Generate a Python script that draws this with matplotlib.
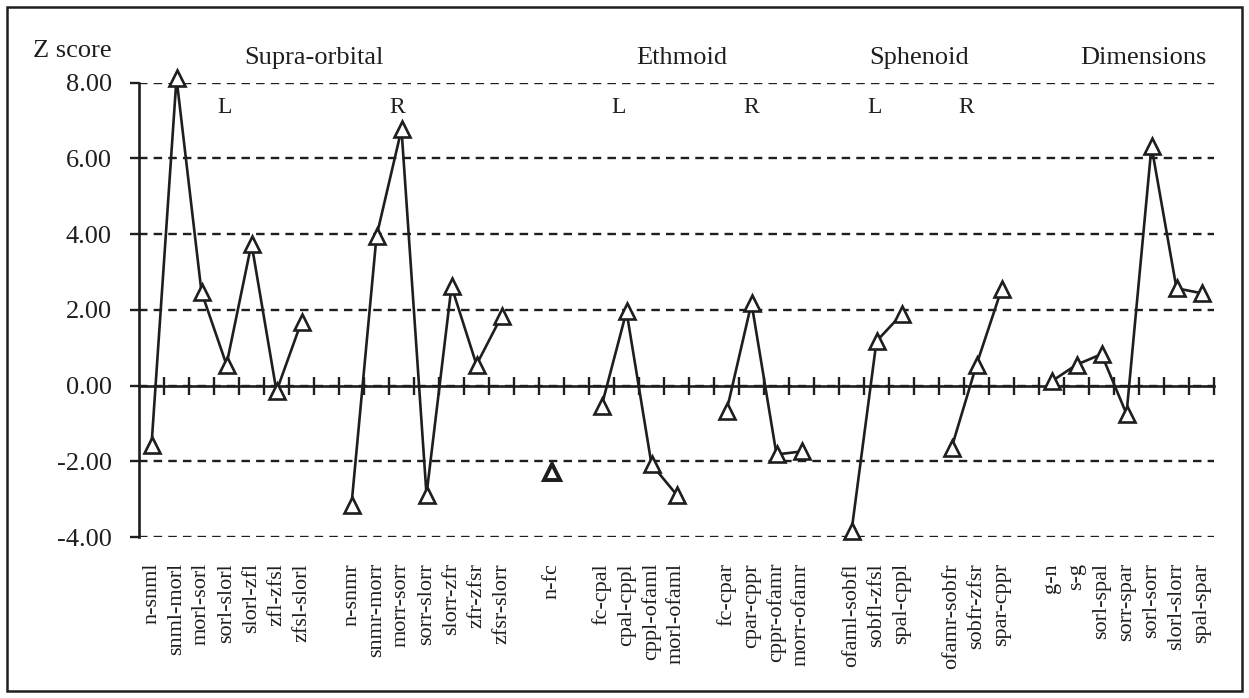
import numpy as np
import matplotlib
matplotlib.use('Agg')
import matplotlib.pyplot as plt
from matplotlib.patches import Rectangle
from matplotlib.ticker import FormatStrFormatter

plt.rcParams['font.family'] = ['Liberation Serif', 'DejaVu Serif']

# categories ('' = empty slot between groups)
labels = ['n-snml', 'snml-morl', 'morl-sorl', 'sorl-slorl', 'slorl-zfl', 'zfl-zfsl', 'zfsl-slorl', '',
          'n-snmr', 'snmr-morr', 'morr-sorr', 'sorr-slorr', 'slorr-zfr', 'zfr-zfsr', 'zfsr-slorr', '',
          'n-fc', '',
          'fc-cpal', 'cpal-cppl', 'cppl-ofaml', 'morl-ofaml', '',
          'fc-cpar', 'cpar-cppr', 'cppr-ofamr', 'morr-ofamr', '',
          'ofaml-sobfl', 'sobfl-zfsl', 'spal-cppl', '',
          'ofamr-sobfr', 'sobfr-zfsr', 'spar-cppr', '',
          'g-n', 's-g', 'sorl-spal', 'sorr-spar', 'sorl-sorr', 'slorl-slorr', 'spal-spar']

nan = np.nan
zscore = [-1.58, 8.12, 2.47, 0.55, 3.75, -0.15, 1.69, nan,
          -3.15, 3.94, 6.77, -2.88, 2.62, 0.55, 1.83, nan,
          -2.28, nan,
          -0.55, 1.96, -2.08, -2.88, nan,
          -0.68, 2.18, -1.82, -1.74, nan,
          -3.85, 1.17, 1.88, nan,
          -1.65, 0.55, 2.54, nan,
          0.11, 0.55, 0.83, -0.75, 6.32, 2.57, 2.44]

groups = ['Supra-orbital', 'Ethmoid', 'Sphenoid', 'Dimensions']
sides = ['L', 'R', 'L', 'R', 'L', 'R']

ink = '#1e1e1e'

fig = plt.figure(figsize=(12.49, 6.98), dpi=100)
ax = fig.add_axes([139 / 1249, 1 - 537 / 698, (1214 - 139) / 1249, (537 - 82.7) / 698])

x = np.arange(len(labels))
y = np.array(zscore, dtype=float)

ax.plot(x, y, color=ink, lw=1.9, marker='^', ms=12, mfc='white', mec=ink, mew=1.9,
        clip_on=False, zorder=3)

# single points with no neighbours are drawn a bit heavier in the original
prev = np.r_[np.nan, y[:-1]]
nxt = np.r_[y[1:], np.nan]
lone = ~np.isnan(y) & np.isnan(prev) & np.isnan(nxt)
ax.plot(x[lone], y[lone], ls='none', marker='^', ms=12, mfc='white', mec=ink, mew=2.8,
        clip_on=False, zorder=4)

ax.set_xlim(-0.5, len(labels) - 0.5)
ax.set_ylim(-4, 8)
ax.set_yticks(np.arange(-4, 9, 2))
ax.yaxis.set_major_formatter(FormatStrFormatter('%.2f'))
ax.tick_params(axis='y', direction='out', length=6.5, width=1.7, color=ink,
               labelsize=19, labelcolor=ink, pad=13)

ax.set_xticks(np.arange(0.5, len(labels) - 0.4, 1))
ax.tick_params(axis='x', direction='inout', length=13, width=1.7, color=ink, labelbottom=False)

ax.grid(axis='y', color=ink, lw=1.7, ls=(0, (3.6, 2.6)))
ax.set_axisbelow(True)

for s in ['top', 'right']:
    ax.spines[s].set_visible(False)
ax.spines['left'].set_linewidth(1.9)
ax.spines['left'].set_color(ink)
ax.spines['bottom'].set_position(('data', 0))
ax.spines['bottom'].set_linewidth(1.9)
ax.spines['bottom'].set_color(ink)
ax.spines['bottom'].set_zorder(2.5)

for i, lab in enumerate(labels):
    if lab:
        ax.text(i, -0.057, lab, transform=ax.get_xaxis_transform(), rotation=90,
                ha='center', va='top', fontsize=16, color=ink)

for gx, g in zip([6.5, 21.2, 30.7, 39.66], groups):
    ax.text(gx, 8.49, g, ha='center', va='baseline', fontsize=19, color=ink)

for sx, s in zip([2.94, 9.82, 18.7, 23.98, 28.94, 32.58], sides):
    ax.text(sx, 7.2, s, ha='center', va='baseline', fontsize=17, color=ink)

fig.text(112 / 1249, 1 - 57 / 698, 'Z score', ha='right', va='baseline', fontsize=19, color=ink)

fig.patches.append(Rectangle((7 / 1249, 7 / 698), (1242 - 7) / 1249, (691 - 7) / 698,
                             transform=fig.transFigure, fill=False, lw=1.8, ec=ink))

fig.savefig('out.png', dpi=100)
